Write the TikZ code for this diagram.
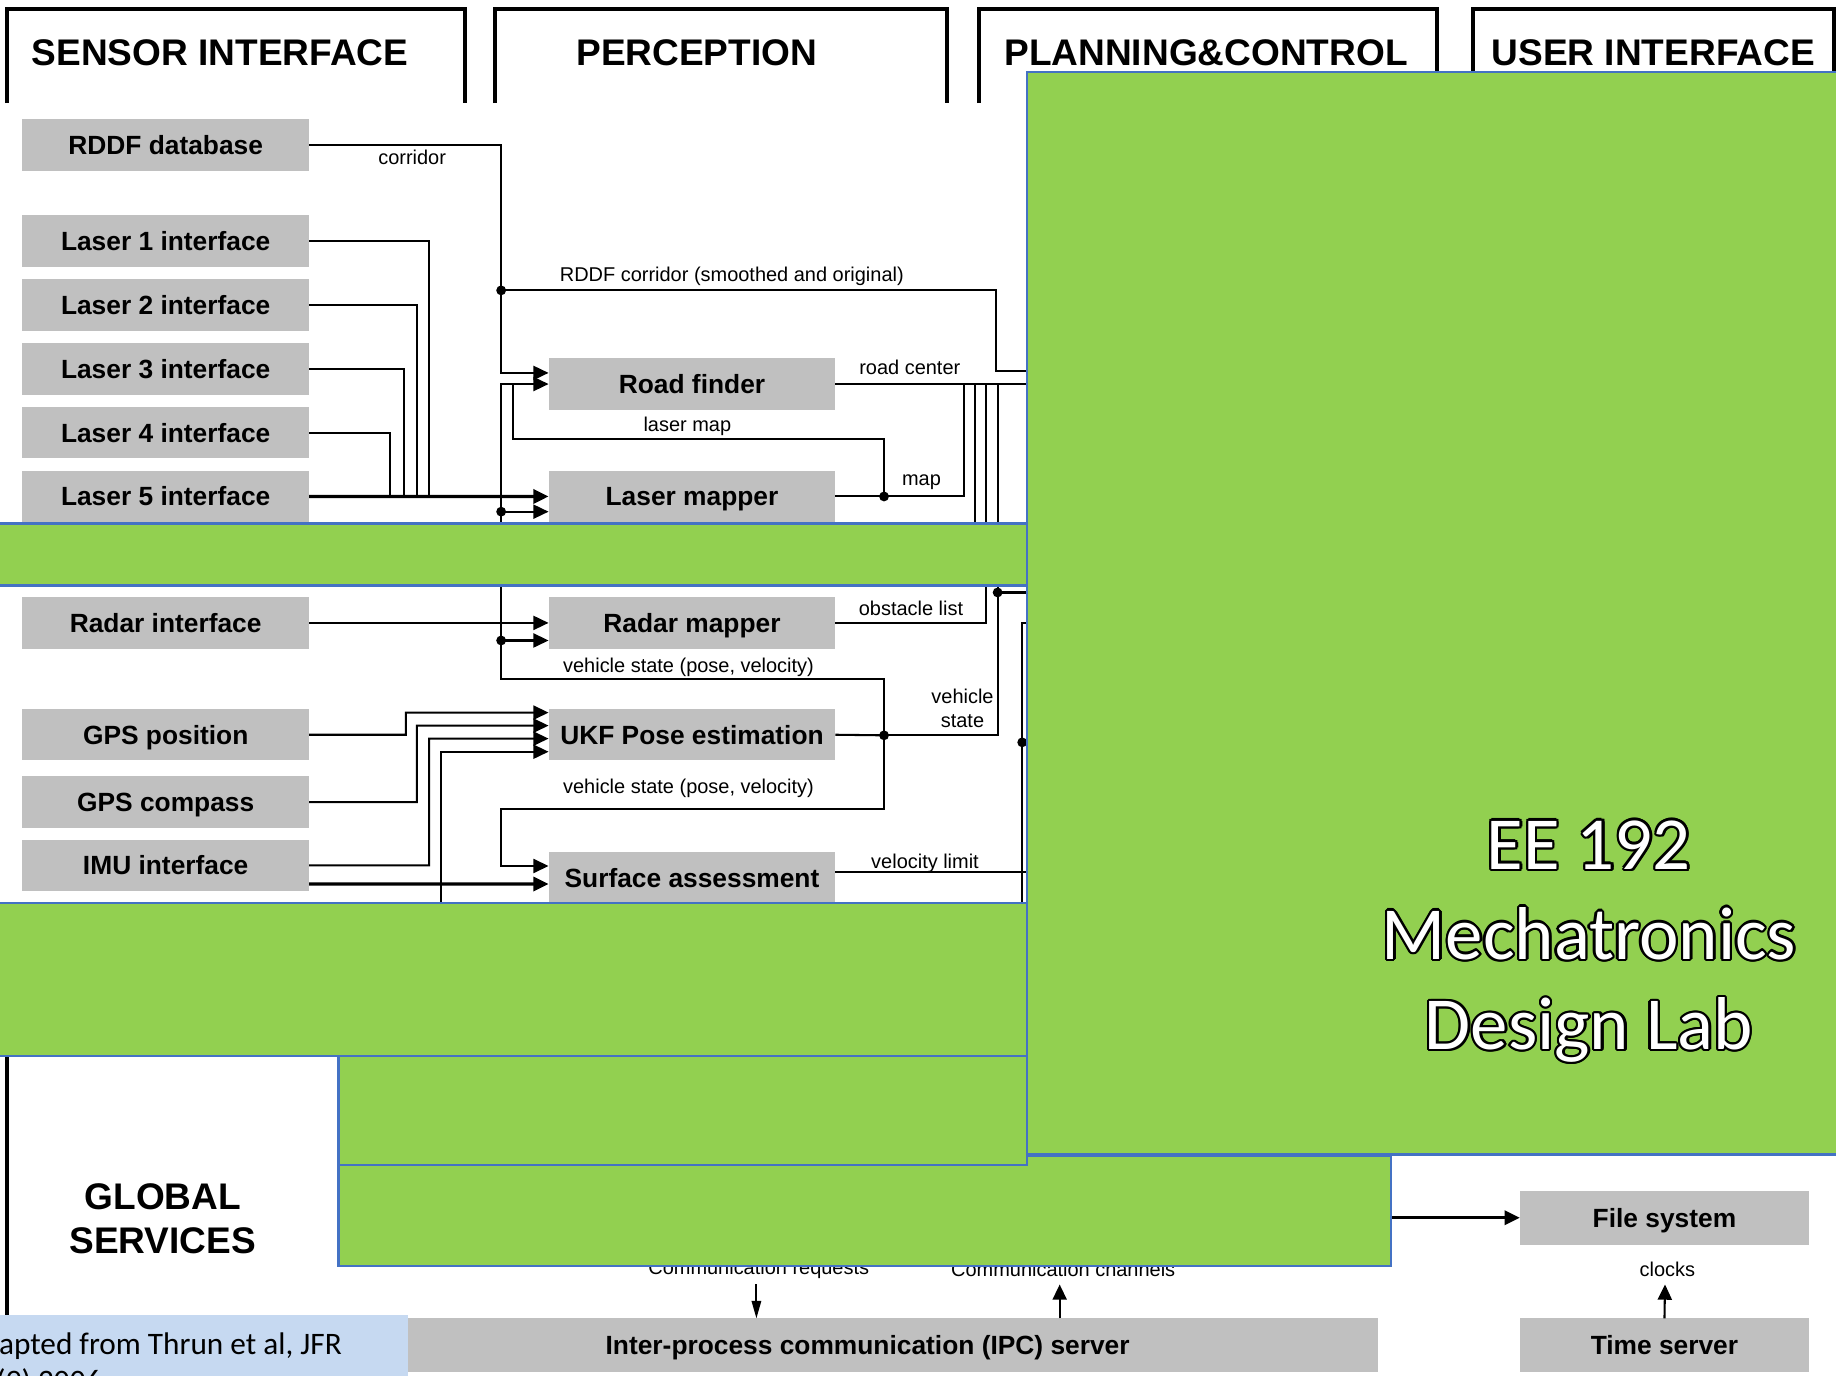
\documentclass[tikz,border=0pt]{standalone}
\usepackage{fontspec}
\setmainfont{Liberation Sans}
\newfontfamily\califont{Carlito}
\usepackage{xcolor}
\usetikzlibrary{positioning}
\usetikzlibrary{arrows.meta}
\tikzset{>={Triangle[width=1.2mm,length=1.3mm]}}
\definecolor{boxgray}{RGB}{192,192,192}
\definecolor{slidegreen}{RGB}{146,208,80}
\definecolor{slideblue}{RGB}{68,114,196}
\definecolor{notebg}{RGB}{198,217,241}

\begin{document}
\begin{tikzpicture}[x=0.1mm, y=-0.1mm, box/.style={fill=boxgray, minimum width=24.5mm, minimum height=4.4mm, inner sep=0pt, outer sep=0pt, text height=5.9pt, text depth=1.3pt, font=\bfseries\fontsize{6.4}{7.5}\selectfont}, head/.style={inner sep=0pt, font=\bfseries\fontsize{9}{10.8}\selectfont}, lbl/.style={inner sep=0pt, font=\fontsize{4.85}{5.7}\selectfont}, wire/.style={line width=0.5pt}, busline/.style={line width=0.8pt}, lanebox/.style={line width=1pt}, greenpanel/.style={fill=slidegreen, draw=slideblue, line width=0.6pt}, bigtext/.style={inner sep=0pt, align=center, font=\califont\fontsize{18.2}{21.9}\selectfont}]

    \useasboundingbox (0,0) rectangle (1568,1175);
    \clip (0,0) rectangle (1568,1175);
    \fill[white] (0,0) rectangle (1568,1175);

    %Lanes
    \draw[lanebox] (6,88) |- (397,8) -- (397,88);
    \draw[lanebox] (423,88) |- (809,8) -- (809,88);
    \draw[lanebox] (836,88) |- (1227,8) -- (1227,88);
    \draw[lanebox] (1258,88) |- (1566,8) -- (1566,88);
    \node[head](sensor) at (188,45){SENSOR INTERFACE};
    \node[head](perception) at (595,45){PERCEPTION};
    \node[head](planning) at (1030,45){PLANNING\&CONTROL};
    \node[head](user) at (1412,45){USER INTERFACE};

    %Nodes
    \node[box](rddf) at (141.5,124){RDDF database};
    \node[box](laser1) at (141.5,206){Laser 1 interface};
    \node[box](laser2)[below=1.05mm of laser1]{Laser 2 interface};
    \node[box](laser3)[below=1.05mm of laser2]{Laser 3 interface};
    \node[box](laser4)[below=1.05mm of laser3]{Laser 4 interface};
    \node[box](laser5)[below=1.05mm of laser4]{Laser 5 interface};
    \node[box](radar) at (141.5,532){Radar interface};
    \node[box](gpspos) at (141.5,627.5){GPS position};
    \node[box](gpscomp)[below=1.35mm of gpspos]{GPS compass};
    \node[box](imu)[below=1.0mm of gpscomp]{IMU interface};
    \node[box](roadf) at (591,328){Road finder};
    \node[box](lmap) at (591,424){Laser mapper};
    \node[box](rmap) at (591,532){Radar mapper};
    \node[box](ukf) at (591,627.5){UKF Pose estimation};
    \node[box](surf) at (591,749.5){Surface assessment};
    \node[box, minimum width=24.7mm, minimum height=4.6mm](filesys) at (1421.5,1040){File system};
    \node[box, minimum width=87.2mm, minimum height=4.6mm](ipc) at (741,1149){Inter-process communication (IPC) server};
    \node[box, minimum width=24.7mm, minimum height=4.6mm](timesrv) at (1421.5,1149){Time server};

    %Junctions and loose ends
    \coordinate (jcorr) at (428,248);
    \coordinate (jlas) at (428,437);
    \coordinate (jrad) at (428,547);
    \coordinate (jmap) at (755,424);
    \coordinate (jukf) at (755,628);
    \coordinate (jobs) at (852,506);
    \coordinate (jvel) at (873,634);
    \coordinate (plan1) at (877,316.8);
    \coordinate (plan2) at (877,328);
    \coordinate (plan3) at (877,506);
    \coordinate (plan4) at (877,532);
    \coordinate (plan5) at (877,634);
    \coordinate (plan6) at (877,744.6);
    \coordinate (gsin) at (376.6,800);
    \coordinate (gsout) at (1188,1040);
    \coordinate (creq) at (646,1097);
    \coordinate (cchan) at (905,1097);
    \coordinate (clk) at (1422,1097);

    %Lines
    \draw[wire,->] (rddf.east) -| (jcorr) |- ([yshift=0.95mm]roadf.west);
    \draw[wire] (jcorr) -- (851,248) |- (plan1);
    \foreach \n/\x in {1/366.6,2/356,3/345,4/333}
        \draw[wire] (laser\n.east) -| (\x,424);
    \draw[busline,->] (laser5.east) -- (lmap.west);
    \draw[wire,->] (radar.east) -- (rmap.west);
    \draw[wire] (ukf.east) -- (jukf);
    \draw[wire,->] (jukf) |- (428,579.6) -- (428,328) -- (roadf.west);
    \draw[wire,->] (jlas) -- (jlas -| lmap.west);
    \draw[wire,->] (jrad) -- (jrad -| rmap.west);
    \draw[wire] (lmap.east) -- (jmap) -- (823,424) -- (823,328);
    \draw[wire] (jmap) |- (438,375) -- (438,328);
    \draw[wire] (roadf.east) -- (plan2);
    \draw[wire] (833,328) -- (833,470);
    \draw[wire] (842,328) |- (rmap.east);
    \draw[wire] (852,328) -- (jobs) |- (jukf);
    \draw[wire] (jobs) -- (plan3);
    \draw[wire,->] (jukf) |- (428,690.6) |- ([yshift=0.99mm]surf.west);
    \draw[wire] ([yshift=0.49mm]surf.east) -- (plan6);
    \draw[wire] (plan4) -| (873,790);
    \draw[wire] (jvel) -- (plan5);
    \draw[wire,->] (gpspos.east) -| (346.7,608.6) -- ([yshift=1.89mm]ukf.west);
    \draw[wire,->] (gpscomp.east) -| (356,619.7) -- ([yshift=0.78mm]ukf.west);
    \draw[wire,->] (imu.east) -| (366.5,630.8) -- ([yshift=-0.33mm]ukf.west);
    \draw[wire,->] (gsin) |- ([yshift=-1.45mm]ukf.west);
    \draw[busline,->] ([yshift=-1.6mm]imu.east) -- ([yshift=-0.55mm]surf.west);
    \foreach \j in {jcorr,jlas,jrad,jmap,jukf,jobs,jvel}
        \fill (\j) circle (0.42mm);

    %Labels
    \node[lbl](lcorr) at (352,134){corridor};
    \node[lbl](lrddf) at (625,236){RDDF corridor (smoothed and original)};
    \node[lbl](lroad) at (777,314){road center};
    \node[lbl](llaser) at (587,364){laser map};
    \node[lbl](lmapout) at (787,412){map};
    \node[lbl](lobs) at (778,520){obstacle list};
    \node[lbl](lstate1) at (588,570){vehicle state (pose, velocity)};
    \node[lbl, align=center](lstate2) at (822,605){vehicle\\state};
    \node[lbl](lstate3) at (588,673){vehicle state (pose, velocity)};
    \node[lbl](lvel) at (790,737){velocity limit};

    %Global services
    \node[lbl](lreq) at (648,1084){Communication requests};
    \node[lbl](lchan) at (908,1084){Communication channels};
    \node[lbl](lclk) at (1424,1084){clocks};
    \draw[wire,-{Triangle[width=0.8mm,length=1.5mm]}] (creq) -- (creq |- ipc.north);
    \draw[wire,->] (cchan |- ipc.north) -- (cchan);
    \draw[wire,->] (timesrv.north) -- (clk);
    \draw[busline,->] (gsout) -- (filesys.west);
    \draw[lanebox] (6,902) -- (6,1123);
    \node[head, align=center](global) at (139,1041){GLOBAL\\SERVICES};

    %Panels on top
    \filldraw[greenpanel] (289,987) rectangle (1188,1081);
    \filldraw[greenpanel] (-10,447) rectangle (877,500);
    \filldraw[greenpanel] (-10,771) rectangle (877,902);
    \filldraw[greenpanel] (289,902) rectangle (877,995);
    \filldraw[greenpanel] (877,61.5) rectangle (1580,986);
    \foreach \a in {0,30,...,330}
        \node[bigtext, text=black, shift={(\a:0.2mm)}](outline\a) at (1357,804){EE 192\\Mechatronics\\Design Lab};
    \node[bigtext, text=white](course) at (1357,804){EE 192\\Mechatronics\\Design Lab};

    %Note
    \fill[notebg] (-10,1123) rectangle (348.5,1185);
    \node[anchor=base west, inner sep=0pt, font=\califont\fontsize{7.6}{9}\selectfont](cite1) at (-31,1157){Adapted from Thrun et al, JFR};
    \node[anchor=base west, inner sep=0pt, font=\califont\fontsize{7.6}{9}\selectfont](cite2) at (-31,1188){23(9) 2006};
\end{tikzpicture}
\end{document}
